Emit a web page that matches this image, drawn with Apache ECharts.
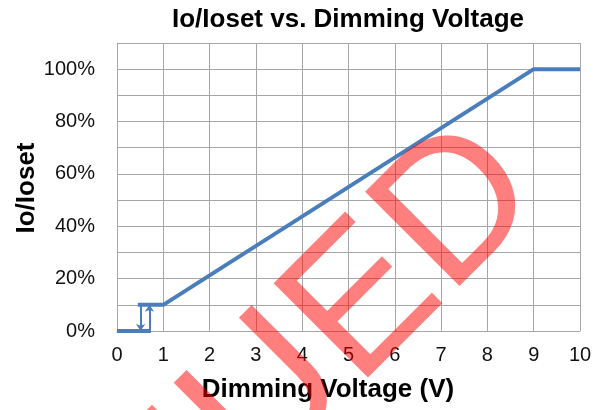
<!DOCTYPE html>
<html>
<head>
<meta charset="utf-8">
<script src="https://cdn.jsdelivr.net/npm/echarts@6/dist/echarts.min.js"></script>
<style>
  html, body { margin: 0; padding: 0; background: #fff; }
  #chart { width: 598px; height: 410px; }
</style>
</head>
<body>
<div id="chart"></div>
<script>
// dimming curve (V, Io/Ioset)
const curveOn = [[0.45, 0.1], [1, 0.1], [9, 1], [10, 1]];
const curveOff = [[0, 0], [0.73, 0]];
// hysteresis arrows: [x, from, to]
const arrowDown = [0.51, 0.1, 0];
const arrowUp = [0.70, 0, 0.1];

const lineColor = "#4A7EBB";
const gridColor = "#A6A6A6";
const tickLabel = { fontSize: 20, color: "#111", fontFamily: "Liberation Sans" };

const chart = echarts.init(document.getElementById("chart"));
chart.setOption({
  backgroundColor: "#fff",
  animation: false,
  grid: { left: 117, right: 18, top: 43, bottom: 79 },
  xAxis: {
    type: "value",
    min: 0,
    max: 10,
    interval: 1,
    axisLine: { show: true, lineStyle: { color: gridColor } },
    axisTick: { show: false },
    splitLine: { show: true, lineStyle: { color: gridColor } },
    axisLabel: Object.assign({ margin: 14 }, tickLabel)
  },
  yAxis: {
    type: "value",
    min: 0,
    max: 1.1,
    interval: 0.1,
    axisLine: { show: true, lineStyle: { color: gridColor } },
    axisTick: { show: false },
    splitLine: { lineStyle: { color: gridColor } },
    axisLabel: Object.assign({
      margin: 22,
      formatter: function (v) {
        const p = Math.round(v * 100);
        return p % 20 === 0 && p <= 100 ? p + "%" : "";
      }
    }, tickLabel)
  },
  graphic: [
    {
      type: "text",
      x: 348,
      y: 20,
      style: {
        text: "Io/Ioset vs. Dimming Voltage", fontSize: 26, fontWeight: "bold", fill: "#000",
        fontFamily: "Liberation Sans", textAlign: "center", textVerticalAlign: "middle"
      }
    },
    {
      type: "text",
      x: 27,
      y: 188,
      rotation: Math.PI / 2,
      style: {
        text: "Io/Ioset", fontSize: 26, fontWeight: "bold", fill: "#000",
        fontFamily: "Liberation Sans", textAlign: "center", textVerticalAlign: "middle"
      }
    },
    {
      type: "text",
      x: 328,
      y: 390,
      style: {
        text: "Dimming Voltage (V)", fontSize: 26, fontWeight: "bold", fill: "#000",
        fontFamily: "Liberation Sans", textAlign: "center", textVerticalAlign: "middle"
      }
    },
    {
      type: "text",
      x: 578,
      y: 229,
      rotation: Math.PI / 4,
      z: 100,
      style: {
        text: "DISCONTINUED", fontSize: 194, fill: "rgba(255,0,0,0.5)",
        fontFamily: "Liberation Sans", textAlign: "right", textVerticalAlign: "bottom"
      }
    }
  ],
  series: [
    {
      type: "line",
      data: curveOn,
      symbol: "none",
      lineStyle: { color: lineColor, width: 4 }
    },
    {
      type: "line",
      data: curveOff,
      symbol: "none",
      lineStyle: { color: lineColor, width: 4 },
      markLine: {
        silent: true,
        symbol: ["none", "arrow"],
        symbolSize: 7,
        label: { show: false },
        lineStyle: { color: lineColor, width: 2, type: "solid" },
        data: [
          [{ coord: [arrowDown[0], arrowDown[1]] }, { coord: [arrowDown[0], arrowDown[2]] }],
          [{ coord: [arrowUp[0], arrowUp[1]] }, { coord: [arrowUp[0], arrowUp[2]] }]
        ]
      }
    }
  ]
});
</script>
</body>
</html>
